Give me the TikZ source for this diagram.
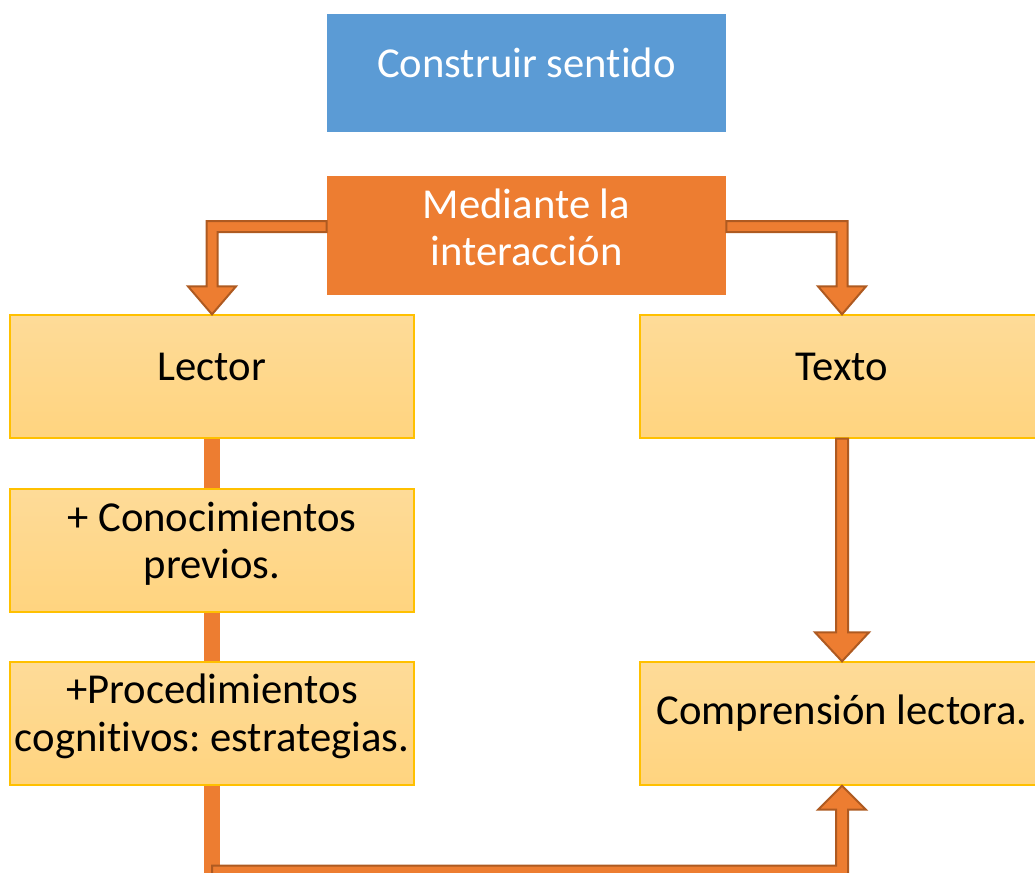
\documentclass[tikz,border=0pt]{standalone}
\usepackage{fontspec}
\setmainfont{Carlito}[Ligatures=NoCommon]
\usetikzlibrary{calc}
\frenchspacing

\definecolor{sblue}{HTML}{5B9BD5}
\definecolor{sorange}{HTML}{ED7D31}
\definecolor{sdark}{HTML}{AE5A21}
\definecolor{sytop}{RGB}{254,219,152}
\definecolor{sybot}{RGB}{255,212,127}
\definecolor{sgold}{HTML}{FFC000}

\tikzset{
  bluebox/.style={fill=sblue, inner sep=0pt, minimum width=299.25pt, minimum height=88.5pt},
  orgbox/.style={fill=sorange, inner sep=0pt, minimum width=299.25pt, minimum height=89.25pt},
  ybox/.style={draw=sgold, line width=1pt, top color=sytop, bottom color=sybot,
    inner sep=0pt, minimum width=303pt, minimum height=92.25pt},
  txt/.style={font=\fontsize{32}{35.5}\selectfont, align=center, inner sep=0pt},
  wtxt/.style={txt, text=white},
  bar/.style={draw=sorange, line width=12pt},
  fatarrow/.style={fill=sorange, draw=sdark, line width=1.5pt, line join=miter}
}

\begin{document}
\begin{tikzpicture}[x=0.75pt, y=-0.75pt]
    \clip (0,0) rectangle (1035,872);

    \node[bluebox] (goal) at (526.5,73) {};
    \node[orgbox] (mid) at (526.5,235.5) {};
    \node[ybox] (lector) at (212,376.5) {};
    \node[ybox] (texto) at (842,376.5) {};
    \node[ybox] (conoc) at (212,550.5) {};
    \node[ybox] (proc) at (212,723.5) {};
    \node[ybox] (comp) at (842,723.5) {};

    \node[wtxt] (goal-t) at ($(goal)+(0,-10)$) {Construir sentido};
    \node[wtxt] (mid-t) at ($(mid)+(0,-8)$) {Mediante la\\interacción};
    \node[txt] (lector-t) at ($(lector)+(0,-10)$) {Lector};
    \node[txt] (texto-t) at ($(texto)+(0,-10)$) {Texto};
    \node[txt] (conoc-t) at ($(conoc)+(0,-7)$) {+ Conocimientos\\previos.};
    \node[txt] (proc-t) at ($(proc)+(0,-7)$) {+Procedimientos\\cognitivos: estrategias.};
    \node[txt] (comp-t) at ($(comp)+(0,-10)$) {Comprensión lectora.};

    \draw[bar] (lector.south) -- (conoc.north);
    \draw[bar] (conoc.south) -- (proc.north);
    \draw[bar] (proc.south) -- ++(0,100);

    \coordinate (sl) at ($(mid.west)+(0,-9)$);
    \coordinate (cl) at (lector.north |- sl);
    \draw[fatarrow] ($(sl)+(0,-5.5)$) -- ($(cl)+(-5.5,-5.5)$) -- ($(lector.north)+(-5.5,-28)$)
        -- ($(lector.north)+(-24,-28)$) -- (lector.north) -- ($(lector.north)+(24,-28)$)
        -- ($(lector.north)+(5.5,-28)$) -- ($(cl)+(5.5,5.5)$) -- ($(sl)+(0,5.5)$) -- cycle;

    \coordinate (sr) at ($(mid.east)+(0,-9)$);
    \coordinate (cr) at (texto.north |- sr);
    \draw[fatarrow] ($(sr)+(0,-5.5)$) -- ($(cr)+(5.5,-5.5)$) -- ($(texto.north)+(5.5,-28)$)
        -- ($(texto.north)+(24,-28)$) -- (texto.north) -- ($(texto.north)+(-24,-28)$)
        -- ($(texto.north)+(-5.5,-28)$) -- ($(cr)+(-5.5,5.5)$) -- ($(sr)+(0,5.5)$) -- cycle;

    \draw[fatarrow] ($(texto.south)+(-6,0)$) -- ($(comp.north)+(-6,-29)$) -- ($(comp.north)+(-27,-29)$)
        -- (comp.north) -- ($(comp.north)+(27,-29)$) -- ($(comp.north)+(6,-29)$)
        -- ($(texto.south)+(6,0)$) -- cycle;

    \coordinate (bend) at ($(proc.south)+(0,86)$);
    \coordinate (cb) at (comp.south |- bend);
    \draw[fatarrow] ($(bend)+(0,-6)$) -- ($(cb)+(-6,-6)$) -- ($(comp.south)+(-6,24)$)
        -- ($(comp.south)+(-24,24)$) -- (comp.south) -- ($(comp.south)+(24,24)$)
        -- ($(comp.south)+(6,24)$) -- ($(cb)+(6,6)$) -- ($(bend)+(0,6)$) -- cycle;
\end{tikzpicture}
\end{document}
